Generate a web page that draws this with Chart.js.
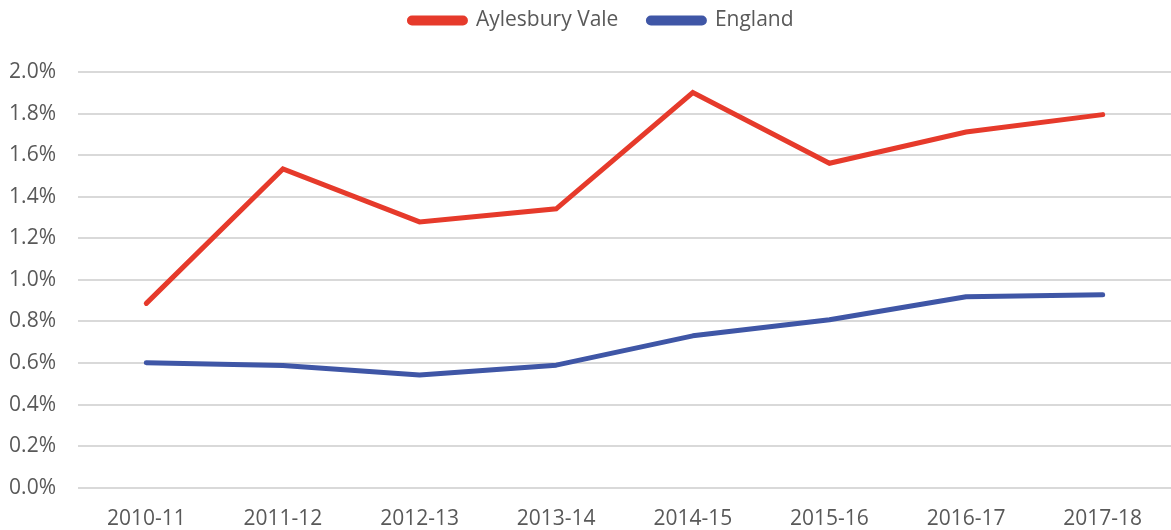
<!DOCTYPE html>
<html>
<head>
<meta charset="utf-8">
<script src="https://cdn.jsdelivr.net/npm/chart.js@4"></script>
<style>
html,body{margin:0;padding:0;background:#fff;}
#wrap{width:1171px;height:530px;position:relative;}
</style>
</head>
<body>
<div id="wrap"><canvas id="c" width="1171" height="530"></canvas></div>
<script>
const categories = ["2010-11","2011-12","2012-13","2013-14","2014-15","2015-16","2016-17","2017-18"];
const aylesburyVale = [0.887, 1.534, 1.279, 1.342, 1.901, 1.561, 1.711, 1.795];
const england = [0.602, 0.588, 0.543, 0.590, 0.731, 0.808, 0.919, 0.928];
const seriesNames = ["Aylesbury Vale", "England"];
const yTicks = [0, 0.2, 0.4, 0.6, 0.8, 1.0, 1.2, 1.4, 1.6, 1.8, 2.0];

const FONT = "'Open Sans', sans-serif";
const TXT = "#595959";

const legendSpace = {
  id: 'legendSpace',
  beforeInit(chart) {
    const orig = chart.legend.fit;
    chart.legend.fit = function () { orig.call(this); this.height += 31; };
  },
  afterLayout(chart) {
    chart.legend.left += 16;
    chart.legend.right += 16;
  }
};

new Chart(document.getElementById('c'), {
  type: 'line',
  data: {
    labels: categories,
    datasets: [
      { label: seriesNames[0], data: aylesburyVale, borderColor: '#E63A2B', backgroundColor: '#E63A2B', borderWidth: 5, pointRadius: 0, borderCapStyle: 'round', borderJoinStyle: 'miter', tension: 0 },
      { label: seriesNames[1], data: england, borderColor: '#3F56A6', backgroundColor: '#3F56A6', borderWidth: 5, pointRadius: 0, borderCapStyle: 'round', borderJoinStyle: 'round', tension: 0 }
    ]
  },
  plugins: [legendSpace],
  options: {
    responsive: false,
    animation: false,
    layout: { padding: { top: -20, right: 0, left: 0, bottom: -21 } },
    plugins: {
      legend: {
        position: 'top',
        labels: {
          font: { family: FONT, size: 21 },
          color: TXT,
          boxWidth: 56,
          boxHeight: 5,
          useBorderRadius: true,
          borderRadius: 2.5,
          padding: 30
        }
      },
      tooltip: { enabled: false }
    },
    scales: {
      x: {
        offset: true,
        grid: { display: false, drawTicks: false },
        border: { display: false },
        ticks: { font: { family: FONT, size: 21 }, color: TXT, padding: 19, maxRotation: 0 }
      },
      y: {
        min: 0, max: 2.0,
        afterBuildTicks: (axis) => { axis.ticks = yTicks.map(v => ({ value: v })); },
        afterFit: (axis) => { axis.width = 78; },
        grid: { color: '#D9D9D9', lineWidth: 2, drawTicks: false },
        border: { display: false },
        ticks: {
          font: { family: FONT, size: 21 }, color: TXT, padding: 22,
          callback: (v) => v.toFixed(1) + '%'
        }
      }
    }
  }
});
</script>
</body>
</html>
